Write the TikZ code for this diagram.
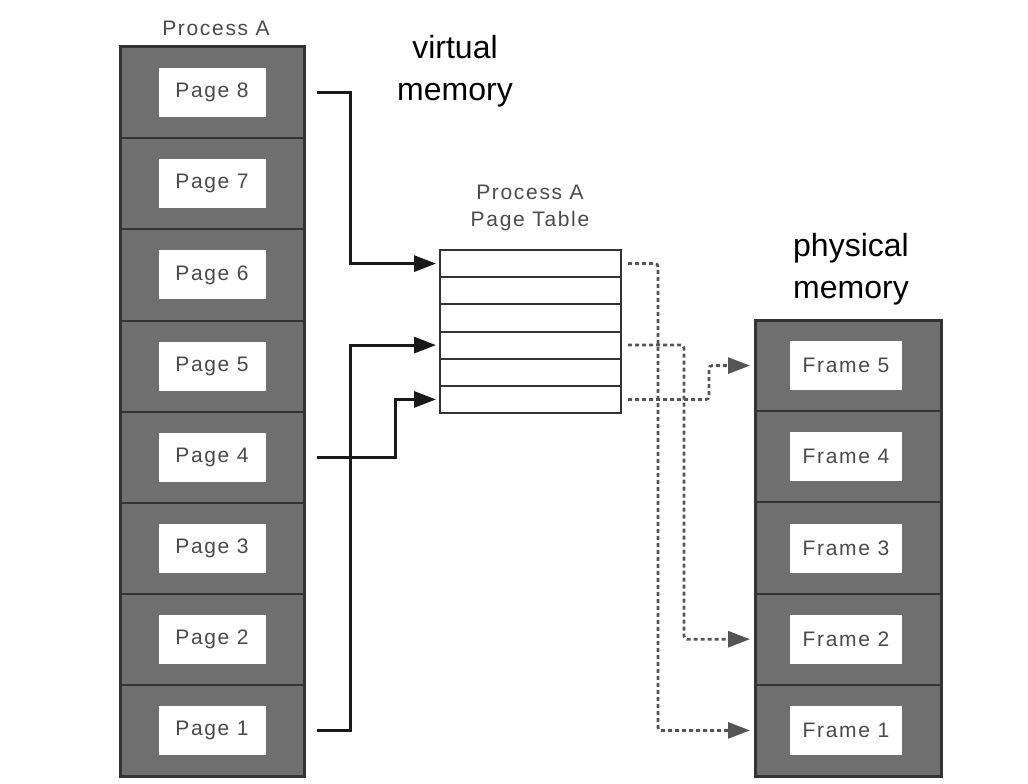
\documentclass[tikz,border=0pt]{standalone}
\usepackage{fontspec}
\setmainfont{Liberation Sans}
\newfontfamily\labfont{Liberation Sans}[LetterSpace=8]
\usetikzlibrary{arrows.meta,calc}
\definecolor{cellgray}{HTML}{6F6F6F}
\definecolor{edgegray}{HTML}{333333}
\definecolor{txtgray}{HTML}{4A4A4A}
\definecolor{dashgray}{HTML}{555555}
\tikzset{
  cellbox/.style={draw=edgegray, fill=cellgray, line width=2pt, minimum width=184pt, minimum height=91.1pt, inner sep=0pt, anchor=center},
  fcellbox/.style={cellbox, minimum width=186pt, minimum height=91.2pt},
  whitebox/.style={fill=white, draw=none, minimum width=107pt, minimum height=49pt, inner sep=0pt, font=\labfont\fontsize{21}{23}\selectfont, text=txtgray},
  fwhitebox/.style={whitebox, minimum width=112pt},
  rowbox/.style={draw=edgegray, fill=white, line width=2pt, minimum width=181pt, minimum height=27.17pt, inner sep=0pt},
  caption/.style={font=\labfont\fontsize{21}{27}\selectfont, text=txtgray, align=center},
  bigcap/.style={font=\fontsize{32}{42}\selectfont, text=black, align=center},
  conn/.style={draw=black!90, line width=3pt, -{Triangle[length=22pt,width=16pt]}, shorten >=3pt},
  dconn/.style={draw=dashgray, line width=2.8pt, dash pattern=on 4pt off 3pt, rounded corners=3pt, -{Triangle[length=22pt,width=16pt]}, shorten >=4pt},
}
\begin{document}
\begin{tikzpicture}[x=1pt,y=-1pt]
\useasboundingbox (0,0) rectangle (1028,784);
% virtual memory column
\foreach \k in {1,...,8}{
  \node[cellbox] (c\k) at (212, {776-(\k-0.5)*91.1}) {};
  \node[whitebox] (p\k) at (212, {776-(\k-0.5)*91.1}) {Page \k};
}
\draw[edgegray, line width=3pt] (120,47) rectangle (304,776);
\node[caption] (pa) at (216,28) {Process A};
\node[bigcap] (vm) at (455,71) {virtual\\memory};
% page table
\foreach \i in {1,...,6}{
  \node[rowbox] (r\i) at (530.5, {250+(\i-0.5)*27.17}) {};
}
\node[caption] (pt) at (530,208) {Process A\\Page Table};
% physical memory column
\foreach \k in {1,...,5}{
  \node[fcellbox] (f\k) at (848, {776-(\k-0.5)*91.2}) {};
  \node[fwhitebox] (fr\k) at (846, {776-(\k-0.5)*91.2}) {Frame \k};
}
\draw[edgegray, line width=3pt] (755,320) rectangle (941,776);
\node[bigcap] (pm) at (851,269) {physical\\memory};
% solid connectors
\coordinate (s8) at ($(c8.east)+(12,0)$);
\coordinate (s4) at ($(c4.east)+(12,0)$);
\coordinate (s1) at ($(c1.east)+(12,0)$);
\draw[conn] (s8) -- ++(33,0) |- (r1.west);
\draw[conn] (s1) -- ++(33,0) |- (r4.west);
\draw[conn] (s4) -- ++(78,0) |- (r6.west);
% dashed connectors
\coordinate (d1) at ($(r1.east)+(6,0)$);
\coordinate (d4) at ($(r4.east)+(6,0)$);
\coordinate (d6) at ($(r6.east)+(6,0)$);
\draw[dconn] (d1) -- ++(30,0) |- (f1.west);
\draw[dconn] (d4) -- ++(56,0) |- (f2.west);
\draw[dconn] (d6) -- ++(81,0) |- (f5.west);
\end{tikzpicture}
\end{document}
